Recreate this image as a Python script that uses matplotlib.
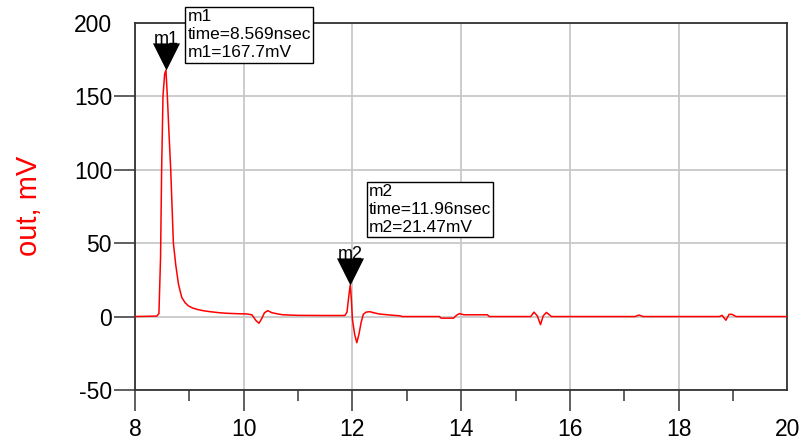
import matplotlib
matplotlib.use("Agg")
import matplotlib.pyplot as plt
from matplotlib import font_manager
from matplotlib.ticker import MultipleLocator

plt.rcParams["axes.unicode_minus"] = False

# ---------------- data ----------------
time_ns = [8.00, 8.40, 8.44, 8.47, 8.49, 8.515, 8.545, 8.569, 8.595, 8.625, 8.657, 8.706,
           8.75, 8.80, 8.86, 8.92, 8.98, 9.06, 9.14, 9.25, 9.38, 9.55, 9.70, 9.90,
           10.05, 10.15, 10.22, 10.28, 10.33, 10.38, 10.44, 10.52, 10.62, 10.72,
           11.00, 11.50, 11.86, 11.90, 11.93, 11.96, 11.98, 12.00, 12.04, 12.08, 12.12,
           12.16, 12.20, 12.25, 12.32, 12.40, 12.50, 12.70, 12.87, 12.92,
           13.60, 13.63, 13.86, 13.92, 13.97, 14.05, 14.48, 14.52,
           15.28, 15.34, 15.40, 15.46, 15.51, 15.57, 15.66,
           17.20, 17.27, 17.35,
           18.75, 18.80, 18.87, 18.93, 18.98, 19.06, 20.00]
out_mV = [0.0, 0.3, 2.0, 40.0, 100.0, 150.0, 165.0, 167.7, 150.0, 125.0, 100.0, 50.0,
          35.0, 22.0, 13.0, 9.5, 7.3, 5.8, 4.9, 4.0, 3.3, 2.6, 2.2, 1.9,
          1.8, 1.2, -2.5, -4.6, -1.5, 2.5, 4.0, 2.6, 1.8, 1.2,
          0.8, 0.7, 0.7, 3.0, 13.0, 21.47, 12.0, -2.0, -12.0, -17.8, -12.0,
          -4.0, 1.5, 3.0, 3.3, 2.5, 1.7, 1.0, 0.5, 0.0,
          0.0, -1.1, -1.1, 1.0, 2.0, 1.2, 1.2, 0.0,
          0.0, 3.0, 0.5, -5.5, 0.5, 2.8, 0.0,
          0.0, 1.0, 0.0,
          0.0, 0.8, -2.5, 1.5, 1.5, 0.0, 0.0]

marker_names = ["m1", "m2"]
marker_time = [8.569, 11.96]
marker_value = [167.7, 21.47]
marker_text = ["m1\ntime=8.569nsec\nm1=167.7mV", "m2\ntime=11.96nsec\nm2=21.47mV"]
# top-left corner of the readout boxes (data coordinates)
box_anchor_x = [8.965, 12.30]
box_anchor_y = [209.0, 90.0]

x_ticks = [8, 10, 12, 14, 16, 18, 20]
y_ticks = [-50, 0, 50, 100, 150, 200]
y_label = "out, mV"

# ---------------- fonts ----------------
names = {f.name for f in font_manager.fontManager.ttflist}
regular = "Liberation Sans" if "Liberation Sans" in names else "DejaVu Sans"
narrow = "Liberation Sans Narrow" if "Liberation Sans Narrow" in names else regular
tick_size = 18 if narrow != regular else 16.5

# ---------------- figure ----------------
fig = plt.figure(figsize=(8.07, 4.44), dpi=100)
W, H = 807, 444
ax = fig.add_axes([135 / W, 1 - 390 / H, (787.3 - 135) / W, (390 - 22.7) / H])

ax.set_xlim(8, 20)
ax.set_ylim(-50, 200)
ax.set_xticks(x_ticks)
ax.set_yticks(y_ticks)
ax.xaxis.set_minor_locator(MultipleLocator(1))

ax.grid(True, which="major", color="#c8c8c8", linewidth=1.3, zorder=0)
ax.set_axisbelow(True)

for s in ax.spines.values():
    s.set_color("#333333")
    s.set_linewidth(1.3)

ax.tick_params(axis="both", which="major", direction="out", length=15, width=1.2,
               color="#444444", labelsize=tick_size)
ax.tick_params(axis="x", which="major", pad=5)
ax.tick_params(axis="y", which="major", pad=1.5)
ax.tick_params(axis="x", which="minor", direction="out", length=8, width=1.2, color="#444444")
ax.tick_params(axis="y", which="minor", left=False)
for lab in ax.get_xticklabels() + ax.get_yticklabels():
    lab.set_fontfamily(narrow)

# hide ticks that coincide with the far corners
ax.yaxis.get_major_ticks()[-1].tick1line.set_visible(False)
ax.xaxis.get_major_ticks()[-1].tick1line.set_visible(False)

ax.set_ylabel(y_label, color="red", fontsize=21, fontfamily=regular, labelpad=22)

# trace
ax.plot(time_ns, out_mV, color="red", linewidth=1.1, zorder=3, clip_on=True)

# markers: downward triangles with tip at the point
tri = [(0, 0), (-0.5, 1), (0.5, 1), (0, 0)]
ax.plot(marker_time, marker_value, linestyle="none", marker=tri, markersize=39,
        color="black", markeredgewidth=0, zorder=5, clip_on=False)

for name, t, v in zip(marker_names, marker_time, marker_value):
    ax.annotate(name, xy=(t, v), xytext=(0, 18.5), textcoords="offset points",
                ha="center", va="baseline", fontsize=13, fontfamily=regular,
                color="black", zorder=4, annotation_clip=False)

for txt, bx, by in zip(marker_text, box_anchor_x, box_anchor_y):
    ax.text(bx, by, txt, ha="left", va="top", fontsize=12.5, fontfamily=regular,
            linespacing=1.25, color="black", zorder=6, clip_on=False,
            bbox=dict(boxstyle="square,pad=0.12", facecolor="white",
                      edgecolor="black", linewidth=1.0))

fig.savefig("out.png", dpi=100)
